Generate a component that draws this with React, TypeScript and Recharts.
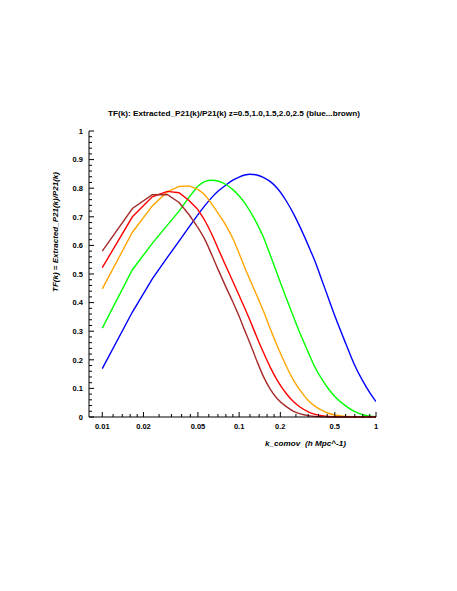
import { LineChart, Line, XAxis, YAxis } from "recharts";

// k_comov sample points (h Mpc^-1)
const kValues = [
  0.01, 0.0166, 0.0232, 0.0298, 0.0364, 0.043, 0.0496, 0.056, 0.063, 0.07,
  0.08, 0.09, 0.1, 0.11, 0.12, 0.135, 0.15, 0.17, 0.19, 0.22, 0.25, 0.28,
  0.32, 0.36, 0.4, 0.45, 0.5, 0.6, 0.7, 0.8, 0.9, 1.0,
];
// the coarse low-k bins are drawn straight, the rest smooth
const kSmoothFrom = 0.0496;

// TF(k) per redshift
const tfZ05 = [
  0.169, 0.367, 0.483, 0.557, 0.615, 0.664, 0.705, 0.738, 0.767, 0.789, 0.811,
  0.828, 0.839, 0.846, 0.849, 0.846, 0.838, 0.822, 0.8, 0.757, 0.71, 0.662,
  0.6, 0.542, 0.482, 0.414, 0.354, 0.258, 0.18, 0.126, 0.085, 0.054,
];
const tfZ10 = [
  0.311, 0.515, 0.607, 0.67, 0.72, 0.768, 0.806, 0.823, 0.828, 0.825, 0.813,
  0.795, 0.773, 0.748, 0.72, 0.676, 0.63, 0.562, 0.5, 0.418, 0.35, 0.29,
  0.226, 0.172, 0.134, 0.098, 0.072, 0.039, 0.019, 0.008, 0.003, 0.001,
];
const tfZ15 = [
  0.448, 0.646, 0.738, 0.787, 0.806, 0.808, 0.797, 0.777, 0.745, 0.713,
  0.67, 0.624, 0.572, 0.522, 0.48, 0.424, 0.372, 0.305, 0.248, 0.18, 0.128,
  0.092, 0.058, 0.037, 0.024, 0.013, 0.007, 0.002, 0.001, 0, 0, 0,
];
const tfZ20 = [
  0.522, 0.7, 0.77, 0.789, 0.784, 0.757, 0.727, 0.688, 0.64, 0.59, 0.528,
  0.474, 0.425, 0.38, 0.338, 0.278, 0.227, 0.171, 0.128, 0.083, 0.053,
  0.034, 0.018, 0.009, 0.005, 0.002, 0.001, 0, 0, 0, 0, 0,
];
const tfZ25 = [
  0.58, 0.729, 0.777, 0.778, 0.75, 0.708, 0.665, 0.622, 0.568, 0.517, 0.455,
  0.402, 0.352, 0.302, 0.258, 0.195, 0.143, 0.095, 0.064, 0.037, 0.02,
  0.011, 0.005, 0.002, 0.001, 0, 0, 0, 0, 0, 0, 0,
];

const xMajor = [0.01, 0.02, 0.05, 0.1, 0.2, 0.5, 1];
const xLabels = ["0.01", "0.02", "0.05", "0.1", "0.2", "0.5", "1"];
const yMajor = [0, 0.1, 0.2, 0.3, 0.4, 0.5, 0.6, 0.7, 0.8, 0.9, 1];
const yLabels = ["0", "0.1", "0.2", "0.3", "0.4", "0.5", "0.6", "0.7", "0.8", "0.9", "1"];

const series = [
  { key: "z05", values: tfZ05, color: "#0000ff" },
  { key: "z10", values: tfZ10, color: "#00ff00" },
  { key: "z15", values: tfZ15, color: "#ffa500" },
  { key: "z20", values: tfZ20, color: "#ff0000" },
  { key: "z25", values: tfZ25, color: "#a52a2a" },
];

const data = kValues.map((k, i) => {
  const row: Record<string, number | null> = { k };
  series.forEach((s) => {
    row[s.key + "_lo"] = k <= kSmoothFrom ? s.values[i] : null;
    row[s.key + "_hi"] = k >= kSmoothFrom ? s.values[i] : null;
  });
  return row;
});

// each major interval split into 5 for the small ticks
const withMinor = (major: number[]) => {
  const out: number[] = [];
  for (let i = 0; i < major.length - 1; i++) {
    const step = (major[i + 1] - major[i]) / 5;
    for (let j = 0; j < 5; j++) out.push(+(major[i] + j * step).toPrecision(6));
  }
  out.push(major[major.length - 1]);
  return out;
};
const xTicks = withMinor(xMajor);
const yTicks = withMinor(yMajor);

const isMajor = (list: number[], v: number) =>
  list.findIndex((m) => Math.abs(m - v) < 1e-9);

const FONT = "'Liberation Sans', Arial, sans-serif";

const BottomTick = (props: any) => {
  const { x, y, payload } = props;
  const idx = isMajor(xMajor, payload.value);
  return (
    <g>
      <line x1={x} x2={x} y1={y} y2={y - (idx >= 0 ? 5 : 3)} stroke="#000" />
      {idx >= 0 && (
        <text x={x} y={y + 12} textAnchor="middle" fontSize={7.5} fontWeight="bold" fontFamily={FONT} fill="#000">
          {xLabels[idx]}
        </text>
      )}
    </g>
  );
};

const TopTick = (props: any) => {
  const { x, y, payload } = props;
  const idx = isMajor(xMajor, payload.value);
  return <line x1={x} x2={x} y1={y} y2={y + (idx >= 0 ? 5 : 3)} stroke="#000" />;
};

const LeftTick = (props: any) => {
  const { x, y, payload } = props;
  const idx = isMajor(yMajor, payload.value);
  return (
    <g>
      <line x1={x} x2={x + (idx >= 0 ? 5 : 3)} y1={y} y2={y} stroke="#000" />
      {idx >= 0 && (
        <text x={x - 6} y={y + 2.7} textAnchor="end" fontSize={7.5} fontWeight="bold" fontFamily={FONT} fill="#000">
          {yLabels[idx]}
        </text>
      )}
    </g>
  );
};

const RightTick = (props: any) => {
  const { x, y, payload } = props;
  const idx = isMajor(yMajor, payload.value);
  return <line x1={x} x2={x - (idx >= 0 ? 5 : 3)} y1={y} y2={y} stroke="#000" />;
};

export default function App() {
  return (
    <div style={{ position: "relative", width: 441, height: 575 }}>
      <LineChart
        width={441}
        height={575}
        data={data}
        margin={{ top: 123, right: 73, left: 51, bottom: 136 }}
      >
        <XAxis
          dataKey="k"
          type="number"
          scale="log"
          domain={[0.008, 1]}
          allowDataOverflow
          ticks={xTicks}
          interval={0}
          tick={<BottomTick />}
          tickLine={false}
          tickSize={0}
          tickMargin={0}
          height={30}
          axisLine={{ stroke: "#000" }}
        />
        <XAxis
          xAxisId="top"
          orientation="top"
          dataKey="k"
          type="number"
          scale="log"
          domain={[0.008, 1]}
          allowDataOverflow
          ticks={xTicks}
          interval={0}
          tick={<TopTick />}
          tickLine={false}
          tickSize={0}
          tickMargin={0}
          height={0}
          axisLine={{ stroke: "#000" }}
        />
        <YAxis
          type="number"
          domain={[0, 1]}
          ticks={yTicks}
          interval={0}
          tick={<LeftTick />}
          tickLine={false}
          tickSize={0}
          tickMargin={0}
          width={30}
          axisLine={{ stroke: "#000" }}
        />
        <YAxis
          yAxisId="right"
          orientation="right"
          type="number"
          domain={[0, 1]}
          ticks={yTicks}
          interval={0}
          tick={<RightTick />}
          tickLine={false}
          tickSize={0}
          tickMargin={0}
          width={0}
          axisLine={{ stroke: "#000" }}
        />
        {series.map((s) => (
          <Line
            key={s.key + "_lo"}
            dataKey={s.key + "_lo"}
            stroke={s.color}
            strokeWidth={1.4}
            dot={false}
            type="linear"
            isAnimationActive={false}
          />
        ))}
        {series.map((s) => (
          <Line
            key={s.key + "_hi"}
            dataKey={s.key + "_hi"}
            stroke={s.color}
            strokeWidth={1.4}
            dot={false}
            type="monotone"
            isAnimationActive={false}
          />
        ))}
      </LineChart>
      <svg
        width={441}
        height={575}
        style={{ position: "absolute", left: 0, top: 0, pointerEvents: "none" }}
      >
        <text x={226} y={108} textAnchor="middle" fontSize={7.5} fontWeight="bold" fontFamily={FONT} textLength={252} lengthAdjust="spacingAndGlyphs">
          TF(k): Extracted_P21(k)/P21(k) z=0.5,1.0,1.5,2.0,2.5 (blue...brown)
        </text>
        <text x={257} y={438} fontSize={8} fontWeight="bold" fontStyle="italic" fontFamily={FONT} textLength={81} lengthAdjust="spacingAndGlyphs" xmlSpace="preserve">
          k_comov  (h Mpc^-1)
        </text>
        <text
          transform="translate(50,224) rotate(-90)"
          textAnchor="middle"
          fontSize={8}
          fontWeight="bold"
          fontStyle="italic"
          fontFamily={FONT}
        >
          TF(k) = Extracted_P21(k)/P21(k)
        </text>
      </svg>
    </div>
  );
}
